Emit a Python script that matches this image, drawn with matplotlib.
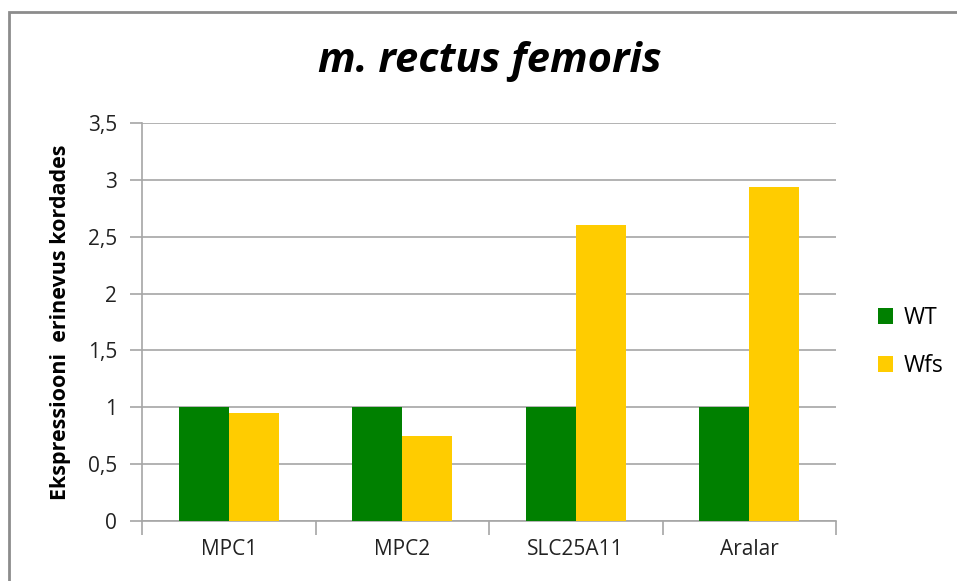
import matplotlib
matplotlib.use("Agg")
import matplotlib.pyplot as plt
import numpy as np
from matplotlib.patches import Rectangle
from matplotlib.ticker import FuncFormatter, FixedLocator

categories = ["MPC1", "MPC2", "SLC25A11", "Aralar"]
wt = [1.0, 1.0, 1.0, 1.0]
wfs = [0.95, 0.75, 2.6, 2.94]
series_names = ["WT", "Wfs"]
yticks = [0, 0.5, 1, 1.5, 2, 2.5, 3, 3.5]

plt.rcParams['font.family'] = ['Open Sans', 'DejaVu Sans']

fig = plt.figure(figsize=(9.57, 5.81), dpi=100)
ax = fig.add_axes([142/957, 1-521/581, (836-142)/957, (521-123)/581])

x = np.arange(len(categories))
w = 0.288
b1 = ax.bar(x - w/2, wt, w, color="#008000", label=series_names[0], zorder=3)
b2 = ax.bar(x + w/2, wfs, w, color="#FFCC00", label=series_names[1], zorder=3)

ax.set_xlim(-0.5, len(categories) - 0.5)
ax.set_ylim(0, 3.5)
ax.set_yticks(yticks)
ax.yaxis.set_major_formatter(FuncFormatter(lambda v, p: ("%g" % v).replace(".", ",")))
ax.grid(axis="y", color="#A6A6A6", linewidth=1.2, zorder=0)
ax.set_xticks(x)
ax.set_xticklabels(categories, fontsize=15, color="#222222")
ax.tick_params(axis="x", which="major", length=0, pad=13)
ax.xaxis.set_minor_locator(FixedLocator(np.arange(-0.5, len(categories), 1.0)))
ax.tick_params(axis="x", which="minor", length=10, color="#A6A6A6", width=1.2)
ax.tick_params(axis="y", length=9, color="#A6A6A6", width=1.2, labelsize=15, labelcolor="#222222", pad=9)
for s in ["top", "right"]:
    ax.spines[s].set_visible(False)
for s in ["left", "bottom"]:
    ax.spines[s].set_color("#A6A6A6")
    ax.spines[s].set_linewidth(1.2)

ax.set_ylabel("Ekspressiooni  erinevus kordades", fontsize=15.5, fontweight="bold", labelpad=12)

fig.text(490/957, 1-62/581, "m. rectus femoris", fontsize=30, fontweight="bold", fontstyle="italic",
         ha="center", va="center")

leg = fig.legend(handles=[b1, b2], labels=series_names, loc="center left",
                 bbox_to_anchor=(878/957, 1-342/581), frameon=False, fontsize=16.5, borderpad=0,
                 borderaxespad=0,
                 handlelength=0.65, handleheight=0.65, labelspacing=1.05, handletextpad=0.45)

fig.patches.append(Rectangle((9/957, -0.1), 1.2, (1-12/581)+0.1, transform=fig.transFigure,
                             fill=False, edgecolor="#8C8C8C", linewidth=2))

fig.savefig("out.png", dpi=100, facecolor="white")
